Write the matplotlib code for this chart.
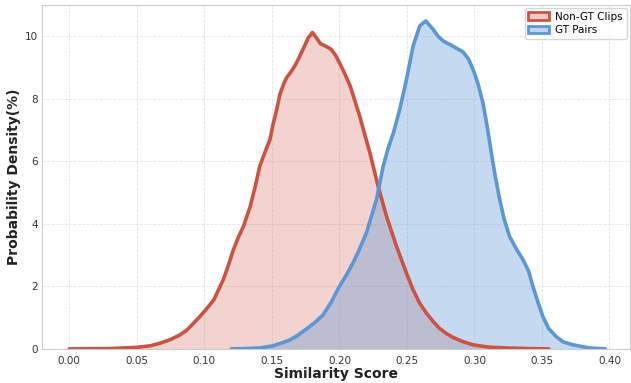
import numpy as np
import matplotlib.pyplot as plt
from matplotlib.patches import Patch

# Curves (x = similarity score, y = density in %)
non_gt_x = [0.000, 0.030, 0.050, 0.060, 0.067, 0.075, 0.082, 0.087, 0.092, 0.097,
            0.102, 0.107, 0.114, 0.118, 0.1215, 0.125, 0.129, 0.134, 0.138, 0.141,
            0.145, 0.1486, 0.151, 0.1536, 0.156, 0.159, 0.161, 0.164, 0.167, 0.170,
            0.173, 0.177, 0.180, 0.183, 0.186, 0.190, 0.194, 0.197, 0.200, 0.204,
            0.208, 0.215, 0.2226, 0.2287, 0.2349, 0.2423, 0.2497, 0.2545, 0.2595,
            0.2645, 0.2694, 0.274, 0.279, 0.284, 0.291, 0.299, 0.310, 0.324, 0.340,
            0.355]
non_gt_y = [0.00, 0.01, 0.05, 0.10, 0.18, 0.30, 0.45, 0.60, 0.82, 1.05,
            1.30, 1.57, 2.21, 2.70, 3.17, 3.55, 3.92, 4.56, 5.25, 5.84,
            6.30, 6.70, 7.20, 7.66, 8.15, 8.50, 8.68, 8.85, 9.05, 9.30,
            9.58, 9.95, 10.12, 9.95, 9.76, 9.68, 9.58, 9.40, 9.16, 8.80,
            8.41, 7.45, 6.27, 5.20, 4.24, 3.28, 2.42, 1.90, 1.46,
            1.14, 0.88, 0.66, 0.50, 0.37, 0.24, 0.13, 0.06, 0.03, 0.01,
            0.00]

gt_x = [0.120, 0.130, 0.141, 0.151, 0.158, 0.163, 0.168, 0.176, 0.182, 0.188,
        0.194, 0.200, 0.205, 0.210, 0.215, 0.220, 0.2275, 0.2324, 0.236, 0.240,
        0.2447, 0.2497, 0.2546, 0.2595, 0.264, 0.2694, 0.273, 0.2768, 0.2817,
        0.2866, 0.2915, 0.2955, 0.299, 0.3025, 0.3063, 0.3095, 0.3125, 0.3155,
        0.3187, 0.322, 0.326, 0.331, 0.336, 0.340, 0.3433, 0.347, 0.3507, 0.355,
        0.3606, 0.366, 0.373, 0.385, 0.397]
gt_y = [0.00, 0.01, 0.03, 0.10, 0.20, 0.28, 0.40, 0.65, 0.85, 1.09,
        1.50, 2.00, 2.35, 2.74, 3.20, 3.71, 4.78, 5.84, 6.40, 6.91,
        7.66, 8.62, 9.69, 10.33, 10.49, 10.22, 10.00, 9.85, 9.74,
        9.62, 9.50, 9.28, 8.94, 8.50, 7.87, 7.10, 6.27, 5.50,
        4.78, 4.15, 3.60, 3.20, 2.85, 2.50, 2.00, 1.50, 1.03, 0.65,
        0.39, 0.22, 0.13, 0.03, 0.00]

red = '#cc5241'
blue = '#5b96d6'

fig = plt.figure(figsize=(6.31, 3.83), dpi=100)
ax = fig.add_axes([0.067, 0.089, 0.931, 0.898])

ax.fill_between(non_gt_x, non_gt_y, color=red, alpha=0.25, linewidth=0)
ax.plot(non_gt_x, non_gt_y, color=red, linewidth=2.6, solid_joinstyle='round',
        solid_capstyle='round')
ax.fill_between(gt_x, gt_y, color=blue, alpha=0.35, linewidth=0)
ax.plot(gt_x, gt_y, color=blue, linewidth=2.6, solid_joinstyle='round',
        solid_capstyle='round')

ax.set_xlim(-0.02, 0.415)
ax.set_ylim(0, 11.0)
ax.set_xticks(np.arange(0, 0.401, 0.05))
ax.set_yticks([0, 2, 4, 6, 8, 10])
ax.tick_params(labelsize=7.5, colors='#333333', length=0)
ax.tick_params(axis='x', pad=5)
ax.tick_params(axis='y', pad=3)

ax.grid(True, color='#dddddd', linestyle='--', linewidth=0.6, alpha=0.8)
ax.set_axisbelow(True)
for s in ax.spines.values():
    s.set_color('#cccccc')
    s.set_linewidth(0.8)

ax.set_xlabel('Similarity Score', fontsize=10, fontweight='bold', color='#222222', labelpad=1)
ax.set_ylabel('Probability Density(%)', fontsize=10, fontweight='bold', color='#222222', labelpad=3)

handles = [Patch(facecolor=(0.8, 0.32, 0.25, 0.3), edgecolor=red, linewidth=2, label='Non-GT Clips'),
           Patch(facecolor=(0.36, 0.59, 0.84, 0.4), edgecolor=blue, linewidth=2, label='GT Pairs')]
ax.legend(handles=handles, loc='upper right', fontsize=7.5, frameon=True,
          edgecolor='#cccccc', handlelength=2.0, handletextpad=0.6,
          borderpad=0.35, labelspacing=0.35, borderaxespad=0.3)

fig.savefig('out.png', dpi=100)
